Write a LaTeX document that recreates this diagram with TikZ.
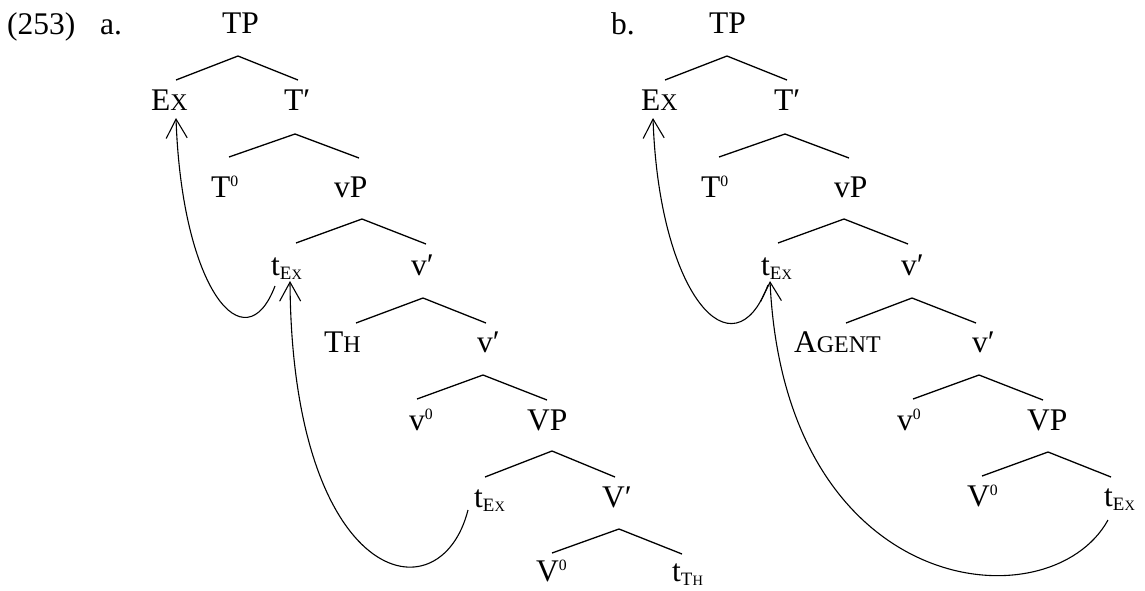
\documentclass[tikz,border=0pt]{standalone}
\usepackage{fontspec}
\setmainfont{Liberation Serif}
\usepackage{graphicx}
\usetikzlibrary{arrows.meta}
\newcommand\mysmc[1]{\scalebox{0.76}{#1}}
\newcommand\myEX{E\mysmc{X}}
\newcommand\myTH{T\mysmc{H}}
\newcommand\mysup[1]{\raisebox{0.33em}{\scalebox{0.5}{#1}}}
\newcommand\mysub[1]{\raisebox{-0.13em}{\scalebox{0.6}{#1}}}
\newcommand\mytrc[1]{t\mysub{#1}}
\newcommand\mybranch[7]{%
  \coordinate (#1-l) at (#4,#5);
  \coordinate (#1) at (#2,#3);
  \coordinate (#1-r) at (#6,#7);
  \draw[branchline] (#1-l) -- (#1) -- (#1-r);}
\begin{document}
\begin{tikzpicture}[x=1pt,y=-1pt,
  lbl/.style={inner sep=0pt, anchor=base west, font=\fontsize{31.5}{36}\selectfont},
  branchline/.style={line width=1.3pt},
  arr/.style={line width=1.1pt, -{Straight Barb[length=19pt,width=21pt]}}]
\useasboundingbox (0,0) rectangle (1145,590);
% ---------- tree a ----------
\node[lbl] (num) at (7,34) {(253)};
\node[lbl] (la) at (100,34) {a.};
\node[lbl] (aTP) at (222,33) {TP};
\node[lbl] (aEx) at (151,110) {\myEX};
\node[lbl] (aT1) at (284,110) {T′};
\node[lbl] (aT0) at (211,197) {T\mysup{0}};
\node[lbl] (avP) at (334,197) {vP};
\node[lbl] (atEx1) at (271,275) {\mytrc{\myEX}};
\node[lbl] (av1) at (411,275) {v′};
\node[lbl] (aTh) at (324,352) {\myTH};
\node[lbl] (av2) at (477,352) {v′};
\node[lbl] (av0) at (409,430) {v\mysup{0}};
\node[lbl] (aVP) at (527,430) {VP};
\node[lbl] (atEx2) at (474,507) {\mytrc{\myEX}};
\node[lbl] (aV1) at (602,507) {V′};
\node[lbl] (aV0) at (536,581) {V\mysup{0}};
\node[lbl] (atTh) at (672,581) {\mytrc{\myTH}};
\mybranch{ab1}{238}{56}{176}{80}{298}{80}
\mybranch{ab2}{295}{134}{229}{157}{359}{158}
\mybranch{ab3}{362}{219}{296}{243}{426}{244}
\mybranch{ab4}{423}{298}{356}{323}{486}{323}
\mybranch{ab5}{483}{375}{417}{399}{547}{400}
\mybranch{ab6}{552}{451}{485}{477}{615}{477}
\mybranch{ab7}{619}{529}{552}{553}{682}{554}
\coordinate (aS1) at (275,286);
\coordinate (aE1) at (176,118);
\coordinate (aS2) at (468,510);
\coordinate (aE2) at (290,281);
\draw[arr] (aS1) .. controls (245,365) and (182,290) .. (aE1);
\draw[arr] (aS2) .. controls (440,620) and (292,585) .. (aE2);
% ---------- tree b ----------
\node[lbl] (lb) at (611,34) {b.};
\node[lbl] (bTP) at (709,33) {TP};
\node[lbl] (bEx) at (641,110) {\myEX};
\node[lbl] (bT1) at (774,110) {T′};
\node[lbl] (bT0) at (701,197) {T\mysup{0}};
\node[lbl] (bvP) at (834,197) {vP};
\node[lbl] (btEx1) at (761,275) {\mytrc{\myEX}};
\node[lbl] (bv1) at (901,275) {v′};
\node[lbl] (bAg) at (794,352) {A\mysmc{GENT}};
\node[lbl] (bv2) at (972,352) {v′};
\node[lbl] (bv0) at (897,430) {v\mysup{0}};
\node[lbl] (bVP) at (1027,430) {VP};
\node[lbl] (bV0) at (967,506) {V\mysup{0}};
\node[lbl] (btEx2) at (1104,506) {\mytrc{\myEX}};
\mybranch{bb1}{727}{56}{665}{80}{787}{80}
\mybranch{bb2}{785}{134}{719}{157}{849}{158}
\mybranch{bb3}{844}{219}{778}{243}{908}{244}
\mybranch{bb4}{912}{298}{846}{323}{976}{323}
\mybranch{bb5}{979}{375}{913}{399}{1043}{400}
\mybranch{bb6}{1048}{452}{982}{476}{1111}{477}
\coordinate (bS1) at (768,285);
\coordinate (bE1) at (653,118);
\coordinate (bS2) at (1108,520);
\coordinate (bE2) at (770,281);
\draw[arr] (bS1) .. controls (733,378) and (659,295) .. (bE1);
\draw[arr] (bS2) .. controls (1050,625) and (785,600) .. (bE2);
\end{tikzpicture}
\end{document}
